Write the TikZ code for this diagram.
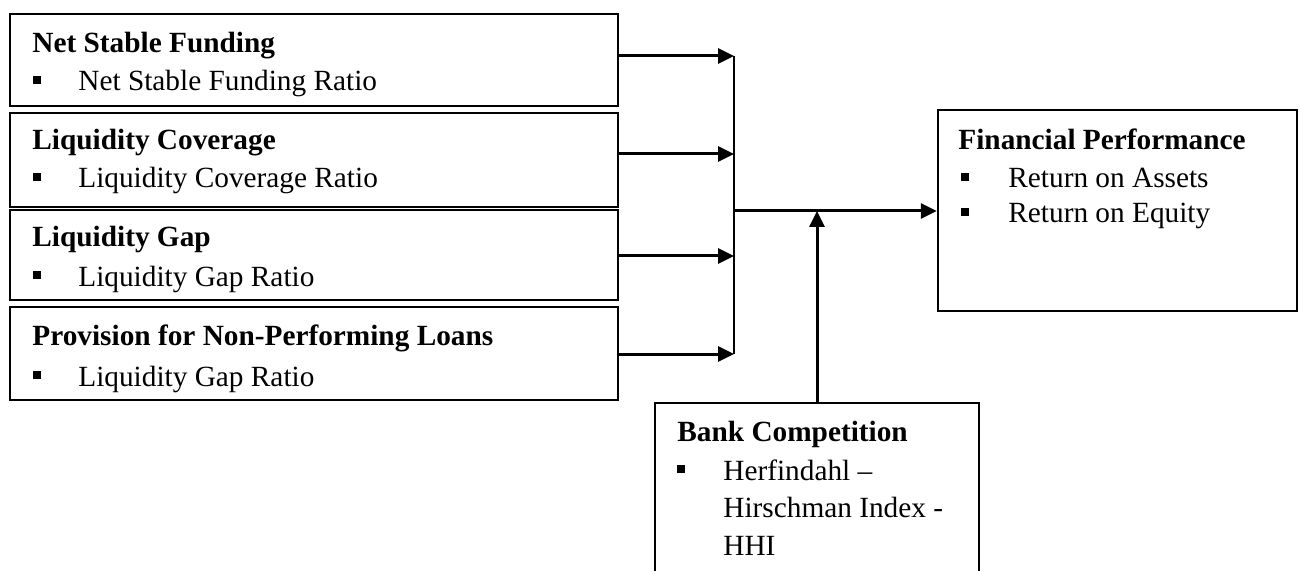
\documentclass[tikz,border=0pt]{standalone}
\usepackage{fontspec}
\setmainfont{Liberation Serif}
\usetikzlibrary{arrows.meta,fit}
\begin{document}
\begin{tikzpicture}[x=0.5pt,y=-0.5pt,
  box/.style={draw, line width=1.2pt, inner sep=0pt, rectangle},
  ttl/.style={anchor=base west, inner sep=0pt, font=\fontsize{14.65}{17}\selectfont\bfseries},
  itm/.style={anchor=base west, inner sep=0pt, font=\fontsize{14.65}{17}\selectfont},
  bul/.style={fill, inner sep=0pt, minimum size=4pt, rectangle},
  arr/.style={line width=1.5pt, -{Triangle[length=8pt,width=7.5pt]}},
  ln/.style={line width=1.1pt}]
\useasboundingbox (0,0) rectangle (1299,571);
\clip (0,0) rectangle (1299,571);

% left boxes
\node[box, fit={(10,14) (618,106)}] (b1) {};
\node[box, fit={(10,113) (618,207)}] (b2) {};
\node[box, fit={(10,210) (618,300)}] (b3) {};
\node[box, fit={(10,307) (618,400)}] (b4) {};

\node[ttl] (t1) at (32,53) {Net Stable Funding};
\node[bul] (u1) at (37,80) {};
\node[itm] (i1) at (78,91) {Net Stable Funding Ratio};

\node[ttl] (t2) at (32,150) {Liquidity Coverage};
\node[bul] (u2) at (37,177) {};
\node[itm] (i2) at (78,188) {Liquidity Coverage Ratio};

\node[ttl] (t3) at (32,247) {Liquidity Gap};
\node[bul] (u3) at (37,275) {};
\node[itm] (i3) at (78,286) {Liquidity Gap Ratio};

\node[ttl] (t4) at (32,345) {Provision for Non-Performing Loans};
\node[bul] (u4) at (37,375) {};
\node[itm] (i4) at (78,386) {Liquidity Gap Ratio};

% financial performance
\node[box, fit={(938,110) (1297,311)}] (fin) {};
\node[ttl] (tf) at (958,150) {Financial Performance};
\node[bul] (uf1) at (965,177) {};
\node[itm] (if1) at (1008,188) {Return on Assets};
\node[bul] (uf2) at (965,212) {};
\node[itm] (if2) at (1008,223) {Return on Equity};

% bank competition
\node[box, fit={(655,403) (979,590)}] (bank) {};
\node[ttl] (tb) at (677,441) {Bank Competition};
\node[bul] (ub) at (681,469) {};
\node[itm] (ib1) at (723,480) {Herfindahl –};
\node[itm] (ib2) at (723,517) {Hirschman Index -};
\node[itm] (ib3) at (723,555) {HHI};

% junctions
\coordinate (j1) at (734,56);
\coordinate (j2) at (734,154);
\coordinate (j3) at (734,256);
\coordinate (j4) at (734,354);
\coordinate (jc) at (734,211);

\draw[arr] (b1.east |- j1) -- (j1);
\draw[arr] (b2.east |- j2) -- (j2);
\draw[arr] (b3.east |- j3) -- (j3);
\draw[arr] (b4.east |- j4) -- (j4);
\draw[ln] (j1) -- (j4);
\draw[arr] (jc) -- (fin.west |- jc);
\draw[arr] (bank.north) -- (bank.north |- jc);
\end{tikzpicture}
\end{document}
